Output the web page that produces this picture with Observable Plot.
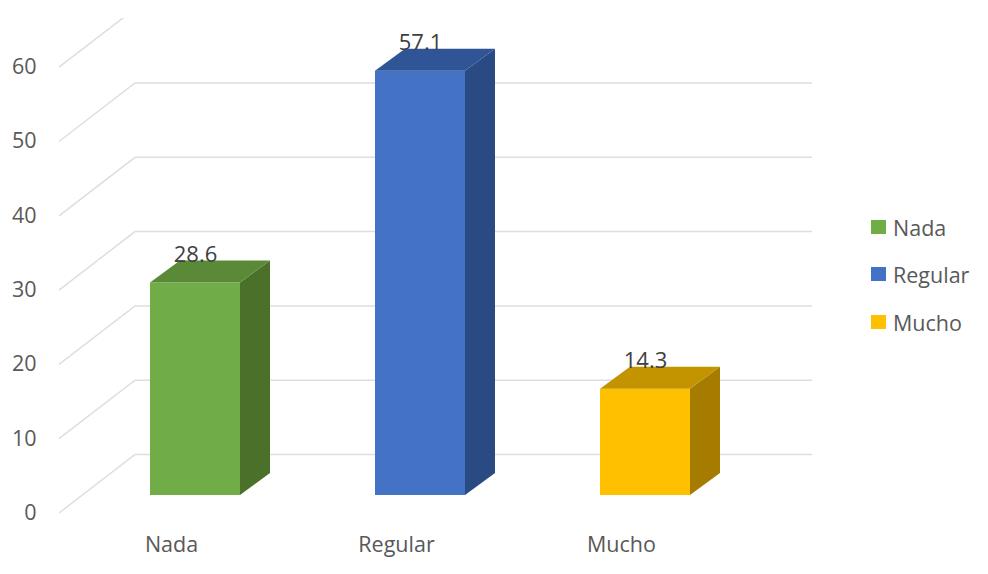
<!DOCTYPE html>
<html>
<head>
<meta charset="utf-8">
<script src="https://cdn.jsdelivr.net/npm/d3@7"></script>
<script src="https://cdn.jsdelivr.net/npm/@observablehq/plot@0.6"></script>
<style>
  html, body { margin: 0; padding: 0; background: #fff; }
  #chart { position: relative; width: 988px; height: 574px; overflow: hidden; font-family: "Open Sans", sans-serif; }
  #legend { position: absolute; left: 871px; top: 0; }
  #legend div { position: absolute; left: 0; width: 117px; height: 24px; display: flex; align-items: center; color: #595959; font-size: 21.5px; white-space: nowrap; }
  #legend i { display: inline-block; width: 15px; height: 14px; margin-right: 7px; flex: none; }
</style>
</head>
<body>
<div id="chart"></div>
<script>
const categories = ["Nada", "Regular", "Mucho"];
const values = [28.6, 57.1, 14.3];
const yTicks = [0, 10, 20, 30, 40, 50, 60];
const frontColors = ["#70AD47", "#4472C4", "#FFC000"];
const sideColors = ["#4A7029", "#294A82", "#A67C00"];
const topColors = ["#5A8A38", "#2F5597", "#C49300"];
const legendTops = [215, 262, 310];

const rows = categories.map((c, i) => ({ category: c, value: values[i], side: sideColors[i], top: topColors[i] }));
const depth = { dx: 30, dy: -22 };

function svgEl(context, name) {
  return d3.select(context.document.createElementNS("http://www.w3.org/2000/svg", name));
}

// Wall and floor grid of the 3D chart, placed through the y scale
function wallGrid(index, scales, vals, dims, context) {
  const g = svgEl(context, "g");
  const clip = g.append("clipPath").attr("id", "wall-clip");
  clip.append("rect").attr("x", 0).attr("y", 18).attr("width", dims.width).attr("height", dims.height);
  const inner = g.append("g").attr("clip-path", "url(#wall-clip)")
    .attr("fill", "none").attr("stroke", "#DEDEDE").attr("stroke-width", 1.5);
  for (const t of yTicks) {
    const y = scales.y(t);
    inner.append("path").attr("d", `M59,${y + 18}L135,${y - 40.5}L812,${y - 40.5}`);
  }
  return g.node();
}

// Side and top faces of each bar, placed through the x and y scales
function barFaces(index, scales, vals, dims, context) {
  const g = svgEl(context, "g");
  const bw = scales.x.bandwidth();
  const y0 = scales.y(0);
  for (const r of rows) {
    const xl = scales.x(r.category), xr = xl + bw, yt = scales.y(r.value);
    const { dx, dy } = depth;
    g.append("path").attr("fill", r.side)
      .attr("d", `M${xr},${yt}L${xr + dx},${yt + dy}L${xr + dx},${y0 + dy}L${xr},${y0}Z`);
    g.append("path").attr("fill", r.top)
      .attr("d", `M${xl},${yt}L${xl + dx},${yt + dy}L${xr + dx},${yt + dy}L${xr},${yt}Z`);
  }
  return g.node();
}

const plot = Plot.plot({
  width: 988,
  height: 574,
  marginLeft: 82.5,
  marginRight: 230.5,
  marginTop: 49.2,
  marginBottom: 79,
  style: { background: "#fff", fontFamily: "'Open Sans', sans-serif" },
  x: { domain: categories, paddingInner: 0.6, paddingOuter: 0.3, label: null },
  y: { domain: [0, 60], label: null },
  color: { domain: categories, range: frontColors },
  marks: [
    wallGrid,
    Plot.barY(rows, { x: "category", y: "value", fill: "category" }),
    barFaces,
    Plot.axisY(yTicks, {
      anchor: "left", tickSize: 0, tickPadding: 0, dx: -46.5, dy: 17.5,
      fontSize: 21.5, color: "#595959", label: null
    }),
    Plot.axisX({
      anchor: "bottom", tickSize: 0, tickPadding: 41, dx: -24,
      fontSize: 21.5, color: "#595959", label: null
    }),
    Plot.text(rows, {
      x: "category", y: "value", text: d => d.value.toFixed(1),
      dy: -28, fontSize: 22, fill: "#404040"
    })
  ]
});

const chart = document.getElementById("chart");
chart.appendChild(plot);

const legend = document.createElement("div");
legend.id = "legend";
categories.forEach((c, i) => {
  const item = document.createElement("div");
  item.style.top = legendTops[i] + "px";
  const swatch = document.createElement("i");
  swatch.style.background = frontColors[i];
  item.appendChild(swatch);
  item.appendChild(document.createTextNode(c));
  legend.appendChild(item);
});
chart.appendChild(legend);
</script>
</body>
</html>
